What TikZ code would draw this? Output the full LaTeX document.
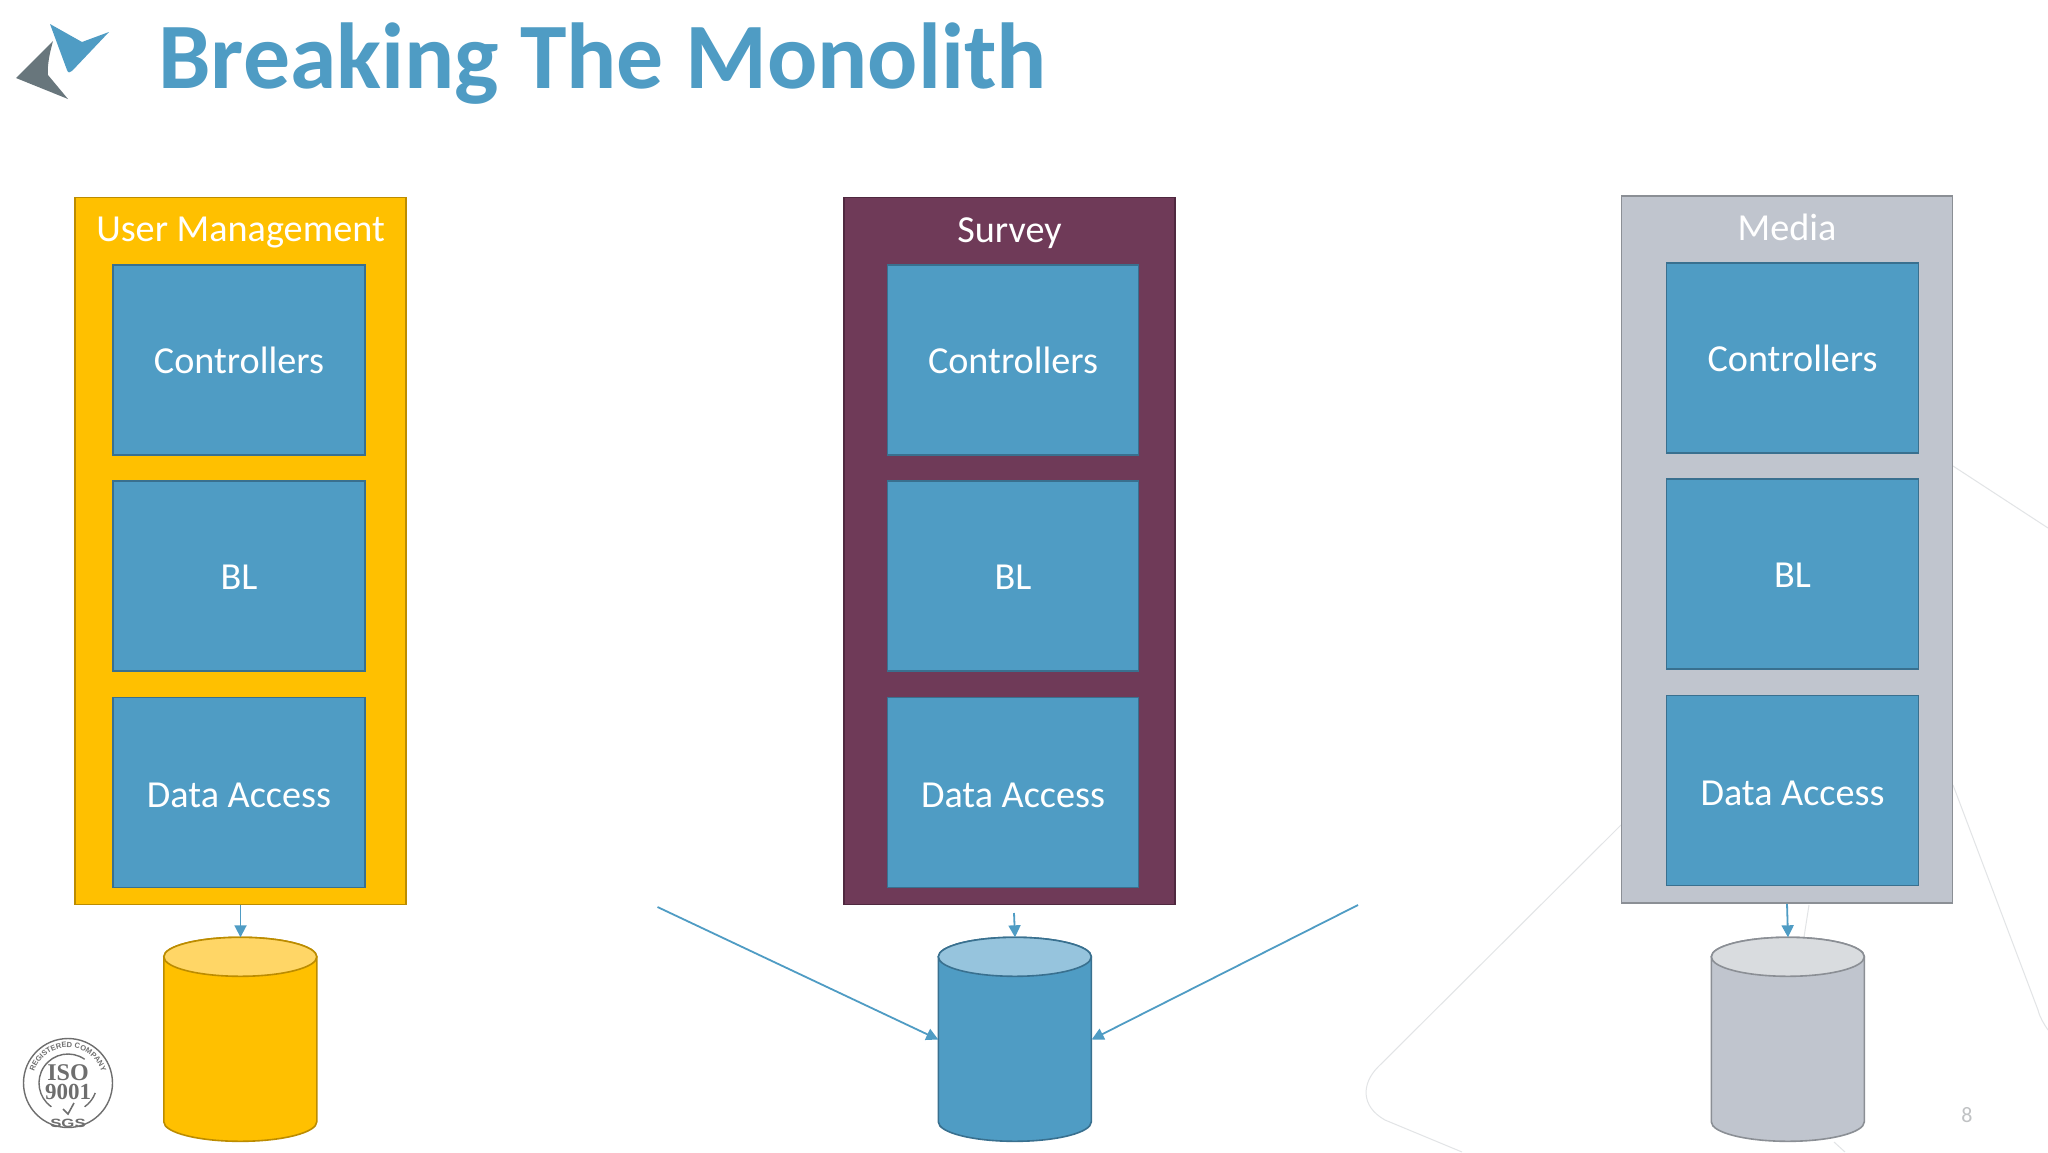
\documentclass[tikz,border=0pt]{standalone}
\usepackage{fontspec}
\setmainfont{Carlito}
\newfontfamily\serifiso{Liberation Serif}
\newfontfamily\sansiso{Liberation Sans}
\usetikzlibrary{arrows.meta,decorations.text}
\definecolor{tealblue}{HTML}{4F9CC4}
\definecolor{tealedge}{HTML}{39708F}
\definecolor{ambr}{HTML}{FFC000}
\definecolor{ambredge}{HTML}{BC8C00}
\definecolor{ambrtop}{HTML}{FFD666}
\definecolor{plum}{HTML}{6F3A58}
\definecolor{plumedge}{HTML}{4F283F}
\definecolor{slate}{HTML}{C0C5CE}
\definecolor{slateedge}{HTML}{8B8F95}
\definecolor{slatetop}{HTML}{D9DCDF}
\definecolor{bluetop}{HTML}{96C4DD}
\definecolor{faint}{HTML}{E2E4E6}
\definecolor{logogray}{HTML}{68767C}
\definecolor{isogray}{HTML}{6E6E6E}
\newcommand{\lowerby}[2]{\raisebox{-#1}[\height][0pt]{#2}}
\tikzset{
  layerbox/.style={draw=tealedge,fill=tealblue,line width=1.4pt,inner sep=0pt,text=white,font=\fontsize{38.2}{38}\selectfont},
  outerbox/.style={line width=1.6pt,inner sep=0pt,minimum width=331pt,minimum height=707pt},
  outertitle/.style={text=white,inner sep=0pt,font=\fontsize{38.2}{38}\selectfont},
  dbframe/.style={inner sep=0pt,minimum width=153pt,minimum height=204pt},
  flow/.style={draw=tealblue,line width=1.8pt,-{Triangle[length=12pt,width=12pt]}},
  bgline/.style={draw=faint,line width=1pt},
}
% name, centre x, body fill, top fill, edge
\newcommand{\dbcyl}[5]{%
  \node[dbframe] (#1) at (#2,1039.5) {};
  \path[fill=#3,draw=#5,line width=1.6pt]
    (#1.north west) ++(0pt,-19.5pt) -- ++(0pt,-165pt)
    arc[start angle=180,end angle=360,x radius=76.5pt,y radius=19.5pt]
    -- ++(0pt,165pt)
    arc[start angle=0,end angle=180,x radius=76.5pt,y radius=19.5pt] -- cycle;
  \path[fill=#4,draw=#5,line width=1.6pt]
    (#1.north west) ++(0pt,-19.5pt)
    arc[start angle=180,end angle=540,x radius=76.5pt,y radius=19.5pt] -- cycle;
}
\begin{document}
\begin{tikzpicture}[x=1pt,y=-1pt]
\useasboundingbox (0,0) rectangle (2048,1152);
\fill[white] (0,0) rectangle (2048,1152);
% faint background lines
\draw[bgline] (1621,825) -- (1378,1067) .. controls (1362,1083) and (1360,1106) .. (1385,1120) -- (1462,1152);
\draw[bgline] (1809,905) -- (1804,937);
\draw[bgline] (1834,1142) -- (1845,1152);
\draw[bgline] (1953,785) -- (2038,1010) .. controls (2040,1018) and (2044,1024) .. (2048,1030);
\draw[bgline] (1953,466) -- (2048,528);
% logo
\fill[tealblue] (50,24) -- (82,42) -- (109,32) -- (72,71) .. controls (70,73) and (68,73) .. (67,70) -- cycle;
\fill[logogray] (53,41) -- (16,78) -- (68,99) -- (48,75) .. controls (47,65) and (50,52) .. (53,41) -- cycle;
% title
\node[anchor=base west,inner sep=0pt,text=tealblue,font=\fontsize{93.7}{90}\selectfont\bfseries] (title) at (158,88.5) {Breaking The Monolith};
% user management
\node[outerbox,draw=ambredge,fill=ambr] (um) at (240.5,551) {};
\node[outertitle] (umt) at (240.5,233) {User Management};
\node[layerbox,minimum width=252pt,minimum height=190pt] (umc) at (239,360) {Controllers};
\node[layerbox,minimum width=252pt,minimum height=190pt] (umb) at (239,576) {\lowerby{1.5pt}{BL}};
\node[layerbox,minimum width=252pt,minimum height=190pt] (umd) at (239,792.5) {\lowerby{2.5pt}{Data Access}};
% survey
\node[outerbox,draw=plumedge,fill=plum] (sv) at (1009.5,551) {};
\node[outertitle] (svt) at (1009.5,233) {Survey};
\node[layerbox,minimum width=251pt,minimum height=190pt] (svc) at (1013,360) {Controllers};
\node[layerbox,minimum width=251pt,minimum height=190pt] (svb) at (1013,576) {\lowerby{1.5pt}{BL}};
\node[layerbox,minimum width=251pt,minimum height=190pt] (svd) at (1013,792.5) {\lowerby{2.5pt}{Data Access}};
% media
\node[outerbox,draw=slateedge,fill=slate] (md) at (1787,549.5) {};
\node[outertitle] (mdt) at (1787,227) {Media};
\node[layerbox,minimum width=252pt,minimum height=190pt] (mdc) at (1792.5,358) {Controllers};
\node[layerbox,minimum width=252pt,minimum height=190pt] (mdb) at (1792.5,574) {\lowerby{1.5pt}{BL}};
\node[layerbox,minimum width=252pt,minimum height=190pt] (mdd) at (1792.5,790.5) {\lowerby{2.5pt}{Data Access}};
% databases
\dbcyl{dba}{240.5}{ambr}{ambrtop}{ambredge}
\dbcyl{dbb}{1015}{tealblue}{bluetop}{tealedge}
\dbcyl{dbc}{1788}{slate}{slatetop}{slateedge}
% connectors
\coordinate (svout) at (1014,913);
\coordinate (leftin) at (657.5,907);
\coordinate (rightin) at (1358,905);
\draw[flow] (um.south) -- (dba.north);
\draw[flow] (svout) -- (dbb.north);
\draw[flow] (leftin) -- (dbb.west);
\draw[flow] (rightin) -- (dbb.east);
\draw[flow] (md.south) -- (dbc.north);
% page number
\node[inner sep=0pt,text=faint!85!black,font=\fontsize{22}{22}\selectfont] (pageno) at (1967,1115) {8};
% ISO seal
\begin{scope}[shift={(68,1083)},y=1pt,isogray]
  \draw[line width=1.4pt] (0,0) circle[radius=44.5pt];
  \draw[line width=1.4pt] (-125:29pt) arc (-125:-305:29pt);
  \draw[line width=1.4pt] (-55:29pt) arc (-55:-20:29pt);
  \path[postaction={decorate,decoration={text along path,text align=center,text={|\sansiso\fontsize{7.5}{7.5}\selectfont\bfseries\color{isogray}|REGISTERED COMPANY}}}] (165:35.5pt) arc (165:15:35.5pt);
  \node[inner sep=0pt,font=\serifiso\fontsize{24}{24}\selectfont\bfseries] (isoa) at (0,10) {ISO};
  \node[inner sep=0pt,font=\serifiso\fontsize{23}{23}\selectfont\bfseries] (isob) at (0,-9) {9001};
  \node[inner sep=0pt,xscale=1.4,font=\sansiso\fontsize{12}{12}\selectfont\bfseries] (isoc) at (0,-40) {SGS};
  \draw[line width=1.6pt] (-5,-26) -- (0,-31) -- (6,-20);
\end{scope}
\end{tikzpicture}
\end{document}
